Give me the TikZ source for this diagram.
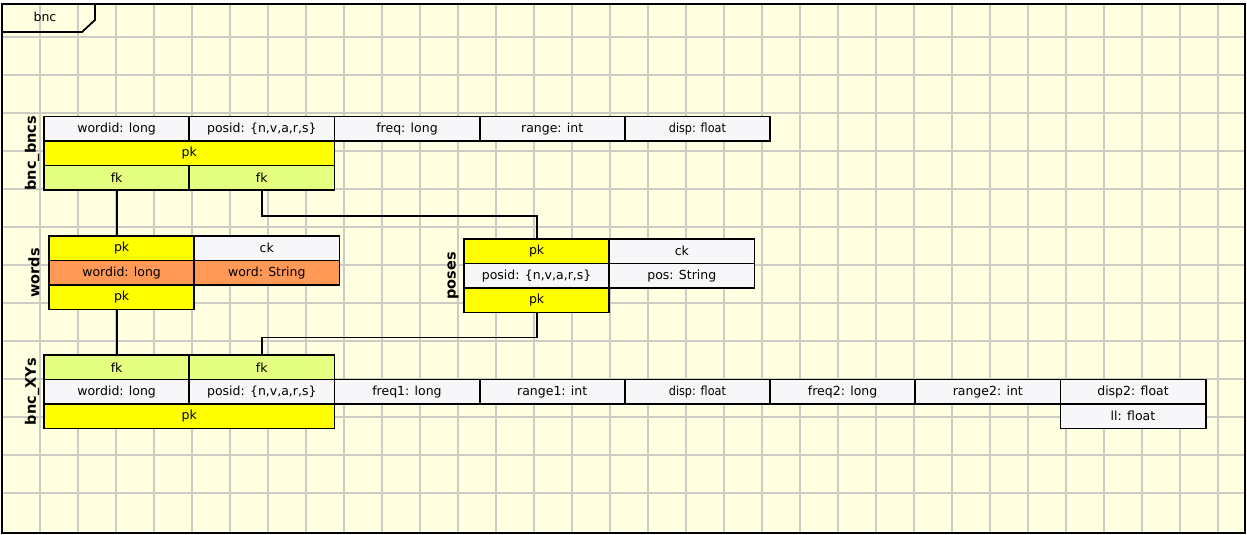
\documentclass[tikz,border=0pt]{standalone}
\usepackage{fontspec}
\setmainfont{DejaVu Sans}
\newfontfamily\condensed{DejaVu Sans Condensed}
\usetikzlibrary{calc}

\definecolor{paper}{RGB}{255,255,226}
\definecolor{gridline}{RGB}{204,204,196}
\definecolor{pkyellow}{RGB}{255,255,0}
\definecolor{fkgreen}{RGB}{229,255,128}
\definecolor{keyorange}{RGB}{255,153,85}
\definecolor{attrwhite}{RGB}{247,247,250}

\tikzset{
  cell/.style={draw, line width=1.8pt, minimum width=145.2pt, minimum height=24.5pt,
    inner sep=0pt, outer sep=0pt, anchor=north west, font=\fontsize{12.5}{14}\selectfont},
  attr/.style={cell, fill=attrwhite},
  pkcell/.style={cell, fill=pkyellow},
  fkcell/.style={cell, fill=fkgreen},
  keycell/.style={cell, fill=keyorange},
  widecell/.style={minimum width=290.4pt},
  tname/.style={rotate=90, font=\fontsize{14.5}{16}\selectfont\bfseries},
  link/.style={draw, line width=1.8pt},
}

\begin{document}
\begin{tikzpicture}[x=1pt, y=-1pt]
\useasboundingbox (0,0) rectangle (1247,535);

%% sheet with grid
\begin{scope}
\clip (2,4) rectangle (1245,533);
\fill[paper] (2,4) rectangle (1245,533);
\foreach \x in {0,...,31}
  \draw[gridline, line width=2pt] (40+38*\x, 4) -- (40+38*\x, 533);
\foreach \y in {0,...,12}
  \draw[gridline, line width=2pt] (2, 37+38*\y) -- (1245, 37+38*\y);
\end{scope}
\draw[line width=1.8pt] (2,4) rectangle (1245,533);
% name tab
\draw[line width=1.8pt] (2,32) -- (82,32) -- (95,20) -- (95,4);
\node[font=\fontsize{12.5}{14}\selectfont] (tab) at (45,17) {bnc};

%% bnc_bncs
\node[attr] (b1) at (44,116.5) {wordid: long};
\node[attr] (b2) at (b1.north east) {posid: \{n,v,a,r,s\}};
\node[attr] (b3) at (b2.north east) {freq: long};
\node[attr] (b4) at (b3.north east) {range: int};
\node[attr, font=\fontsize{12.5}{14}\condensed] (b5) at (b4.north east) {disp: float};
\node[pkcell, widecell] (bpk) at (b1.south west) {pk};
\node[fkcell] (bf1) at (bpk.south west) {fk};
\node[fkcell] (bf2) at (bf1.north east) {fk};
\node[tname] (lbncs) at ($(b1.north west)!0.5!(bf1.south west)+(-12,0)$) {bnc\_bncs};

%% words
\node[pkcell] (wpk) at (49,236) {pk};
\node[attr] (wck) at (wpk.north east) {ck};
\node[keycell] (w1) at (wpk.south west) {wordid: long};
\node[keycell] (w2) at (w1.north east) {word: String};
\node[pkcell] (wpk2) at (w1.south west) {pk};
\node[tname] (lwords) at ($(wpk.north west)!0.5!(wpk2.south west)+(-15,0)$) {words};

%% poses
\node[pkcell] (ppk) at (464,239) {pk};
\node[attr] (pck) at (ppk.north east) {ck};
\node[attr] (p1) at (ppk.south west) {posid: \{n,v,a,r,s\}};
\node[attr] (p2) at (p1.north east) {pos: String};
\node[pkcell] (ppk2) at (p1.south west) {pk};
\node[tname] (lposes) at ($(ppk.north west)!0.5!(ppk2.south west)+(-11,0)$) {poses};

%% bnc_XYs
\node[fkcell] (xf1) at (44,355) {fk};
\node[fkcell] (xf2) at (xf1.north east) {fk};
\node[attr] (x1) at (xf1.south west) {wordid: long};
\node[attr] (x2) at (x1.north east) {posid: \{n,v,a,r,s\}};
\node[attr] (x3) at (x2.north east) {freq1: long};
\node[attr] (x4) at (x3.north east) {range1: int};
\node[attr, font=\fontsize{12.5}{14}\condensed] (x5) at (x4.north east) {disp: float};
\node[attr] (x6) at (x5.north east) {freq2: long};
\node[attr] (x7) at (x6.north east) {range2: int};
\node[attr] (x8) at (x7.north east) {disp2: float};
\node[attr] (x9) at (x8.south west) {ll: float};
\node[pkcell, widecell] (xpk) at (x1.south west) {pk};
\node[tname] (lxys) at ($(xf1.north west)!0.5!(xpk.south west)+(-12,0)$) {bnc\_XYs};

%% links
\draw[link] (bf1.south) -- (bf1.south |- wpk.north);
\draw[link] (bf2.south) -- ++(0,26) -| (ppk.north);
\draw[link] (xf1.north |- wpk2.south) -- (xf1.north);
\draw[link] (ppk2.south) -- ++(0,25) -| (xf2.north);

\end{tikzpicture}
\end{document}
